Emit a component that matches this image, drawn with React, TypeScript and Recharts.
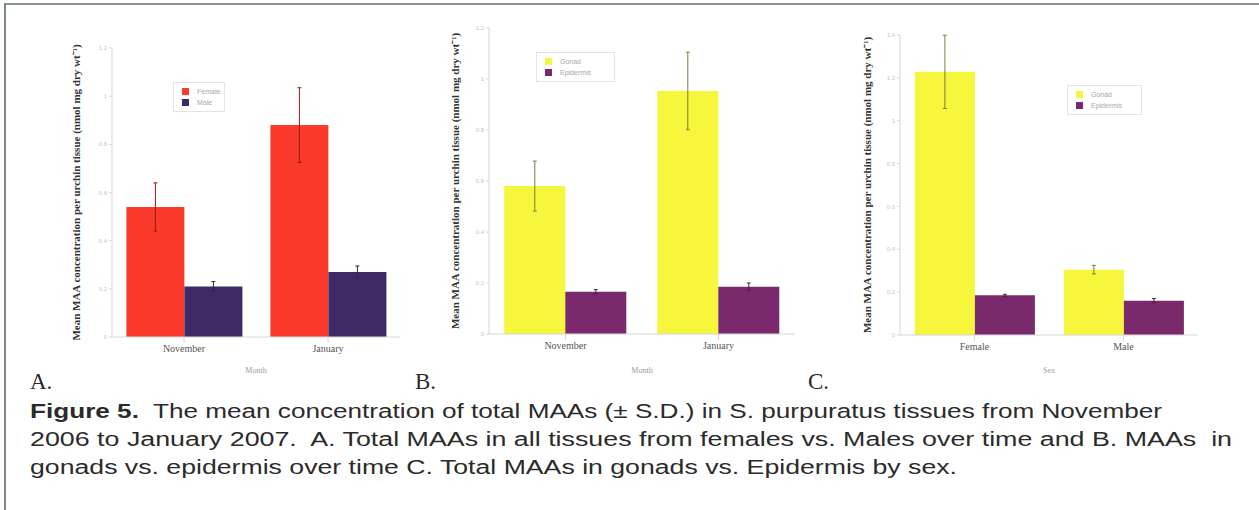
import React from 'react';
import { BarChart, Bar, XAxis, YAxis, ErrorBar, Legend, Label } from 'recharts';

// ---- data ----
const monthCats = ['November', 'January'];
const sexCats = ['Female', 'Male'];

const femaleVals = [0.54, 0.88];
const femaleSD = [0.1, 0.155];
const maleVals = [0.21, 0.27];
const maleSD = [0.02, 0.025];

const gonadMonthVals = [0.58, 0.953];
const gonadMonthSD = [0.098, 0.152];
const epiMonthVals = [0.166, 0.185];
const epiMonthSD = [0.008, 0.015];

const gonadSexVals = [1.228, 0.305];
const gonadSexSD = [0.171, 0.02];
const epiSexVals = [0.185, 0.16];
const epiSexSD = [0.005, 0.01];

const ticksA = [0, 0.2, 0.4, 0.6, 0.8, 1, 1.2];
const ticksB = [0, 0.2, 0.4, 0.6, 0.8, 1, 1.2];
const ticksC = [0, 0.2, 0.4, 0.6, 0.8, 1, 1.2, 1.4];

const captionLines = [
  'The mean concentration of total MAAs (\u00b1 S.D.) in S. purpuratus tissues from November',
  '2006 to January 2007.\u00a0 A. Total MAAs in all tissues from females vs. Males over time and B. MAAs\u00a0 in',
  'gonads vs. epidermis over time C. Total MAAs in gonads vs. Epidermis by sex.',
];

const yLabel = 'Mean MAA concentration per urchin tissue (nmol mg dry wt\u207b\u00b9)';

const dataA = monthCats.map((c, i) => ({ cat: c, a: femaleVals[i], aSD: femaleSD[i], b: maleVals[i], bSD: maleSD[i] }));
const dataB = monthCats.map((c, i) => ({ cat: c, a: gonadMonthVals[i], aSD: gonadMonthSD[i], b: epiMonthVals[i], bSD: epiMonthSD[i] }));
const dataC = sexCats.map((c, i) => ({ cat: c, a: gonadSexVals[i], aSD: gonadSexSD[i], b: epiSexVals[i], bSD: epiSexSD[i] }));

const RED = '#fa3b2c';
const NAVY = '#3d2a66';
const YELLOW = '#f6f63c';
const PURPLE = '#7a2a6c';

const makeLegend = (order: string[]) => (props: any) => {
  const payload = [...(props.payload || [])].sort((x: any, y: any) => order.indexOf(x.value) - order.indexOf(y.value));
  return (
    <div style={{ border: '1px solid #e4e4e4', padding: '3px 4px 3px 8px', background: '#fff', boxSizing: 'border-box' }}>
      {payload.map((p: any) => (
        <div key={p.value} style={{ display: 'flex', alignItems: 'center', height: 11, whiteSpace: 'nowrap' }}>
          <span style={{ display: 'inline-block', flexShrink: 0, width: 7, height: 7, background: p.color, marginRight: 8 }} />
          <span style={{ fontFamily: 'Liberation Sans, Arial', fontSize: 7, color: '#a8a8a8' }}>{p.value}</span>
        </div>
      ))}
    </div>
  );
};

const makeYLabel = (offset: number) => (props: any) => {
  const vb = props.viewBox || {};
  const cx = vb.x + offset;
  const cy = vb.y + vb.height / 2;
  return (
    <text
      x={cx}
      y={cy}
      transform={`rotate(-90 ${cx} ${cy})`}
      textAnchor="middle"
      dominantBaseline="central"
      style={{ fontFamily: 'Liberation Serif, Times New Roman', fontWeight: 'bold', fontSize: 11, fill: '#333' }}
    >
      {yLabel}
    </text>
  );
};

type PanelProps = {
  data: any[];
  left: number;
  width: number;
  yWidth: number;
  top: number;
  right: number;
  xHeight: number;
  ticks: number[];
  domainMax: number;
  colA: string;
  colB: string;
  errA: string;
  errB: string;
  nameA: string;
  nameB: string;
  xTitle: string;
  labelOffset: number;
  legendLeft: number;
  legendTop: number;
  legendWidth: number;
};

const Panel = (p: PanelProps) => (
  <div style={{ position: 'absolute', left: p.left, top: 0 }}>
    <BarChart width={p.width} height={380} data={p.data} margin={{ top: p.top, right: p.right, left: 0, bottom: 0 }} barCategoryGap="10%" barGap={0}>
      <XAxis
        dataKey="cat"
        height={p.xHeight}
        axisLine={{ stroke: '#d6d6d6' }}
        tickLine={{ stroke: '#d6d6d6' }}
        tick={{ fontFamily: 'Liberation Serif, Times New Roman', fontSize: 10, fill: '#555' }}
      >
        <Label value={p.xTitle} position="insideBottom" offset={7} style={{ fontFamily: 'Liberation Serif', fontSize: 8, fill: '#9a9a9a' }} />
      </XAxis>
      <YAxis
        width={p.yWidth}
        domain={[0, p.domainMax]}
        ticks={p.ticks}
        interval={0}
        axisLine={{ stroke: '#d6d6d6' }}
        tickLine={{ stroke: '#d6d6d6' }}
        tickSize={3}
        tick={{ fontFamily: 'Liberation Sans, Arial', fontSize: 6, fill: '#c6c6c6' }}
      >
        <Label content={makeYLabel(p.labelOffset)} />
      </YAxis>
      <Legend
        layout="vertical"
        align="center"
        verticalAlign="middle"
        content={makeLegend([p.nameA, p.nameB])}
        wrapperStyle={{ left: p.legendLeft, top: p.legendTop, width: p.legendWidth }}
      />
      <Bar dataKey="a" name={p.nameA} fill={p.colA} isAnimationActive={false}>
        <ErrorBar dataKey="aSD" width={2} strokeWidth={1} stroke={p.errA} direction="y" />
      </Bar>
      <Bar dataKey="b" name={p.nameB} fill={p.colB} isAnimationActive={false}>
        <ErrorBar dataKey="bSD" width={2} strokeWidth={1} stroke={p.errB} direction="y" />
      </Bar>
    </BarChart>
  </div>
);

export default function App() {
  return (
    <div style={{ position: 'absolute', left: 0, top: 0, width: 1259, height: 510, background: '#fff', overflow: 'hidden' }}>
      <Panel
        data={dataA} left={0} width={420} yWidth={112} top={48} right={20} xHeight={43}
        ticks={ticksA} domainMax={1.2} colA={RED} colB={NAVY} errA="#8a1c12" errB="#2a2a2a"
        nameA="Female" nameB="Male" xTitle="Month" labelOffset={76}
        legendLeft={173} legendTop={82} legendWidth={52}
      />
      <Panel
        data={dataB} left={400} width={410} yWidth={89} top={28} right={15} xHeight={46}
        ticks={ticksB} domainMax={1.2} colA={YELLOW} colB={PURPLE} errA="#7d7d3a" errB="#3a2a3a"
        nameA="Gonad" nameB="Epidermis" xTitle="Month" labelOffset={55}
        legendLeft={136} legendTop={52} legendWidth={79}
      />
      <Panel
        data={dataC} left={810} width={410} yWidth={90} top={35} right={22} xHeight={45}
        ticks={ticksC} domainMax={1.4} colA={YELLOW} colB={PURPLE} errA="#7d7d3a" errB="#3a2a3a"
        nameA="Gonad" nameB="Epidermis" xTitle="Sex" labelOffset={57}
        legendLeft={257} legendTop={85} legendWidth={75}
      />
      <svg width={1259} height={510} style={{ position: 'absolute', left: 0, top: 0, pointerEvents: 'none' }}>
        <line x1={4} y1={4} x2={1259} y2={4} stroke="#8a968a" strokeWidth={2} />
        <line x1={5} y1={3} x2={5} y2={510} stroke="#7f8a7f" strokeWidth={2} />
        <g style={{ fontFamily: 'Liberation Serif, Times New Roman', fontSize: 23, fill: '#2a2a2a' }}>
          <text x={30} y={389}>A.</text>
          <text x={415} y={389}>B.</text>
          <text x={808} y={389}>C.</text>
        </g>
        <g style={{ fontFamily: 'Liberation Sans, Arial', fontSize: 20, fill: '#2b2b2b' }}>
          <text x={30} y={418} textLength={1132} lengthAdjust="spacingAndGlyphs">
            <tspan fontWeight="bold">Figure 5.</tspan>
            <tspan>{'\u00a0 ' + captionLines[0]}</tspan>
          </text>
          <text x={30} y={446} textLength={1202} lengthAdjust="spacingAndGlyphs">{captionLines[1]}</text>
          <text x={30} y={474} textLength={927} lengthAdjust="spacingAndGlyphs">{captionLines[2]}</text>
        </g>
      </svg>
    </div>
  );
}
